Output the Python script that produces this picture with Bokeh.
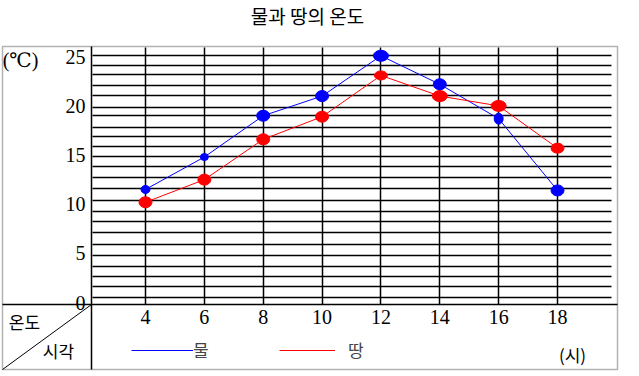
from bokeh.plotting import figure
from bokeh.models import (Range1d, LinearAxis, FixedTicker, Grid, Label, Legend,
                          LegendItem, ColumnDataSource, BoxAnnotation)
from bokeh.core.properties import value
from bokeh.embed import file_html
from bokeh.resources import INLINE

# ---------------- data ----------------
title_text = "물과 땅의 온도"
hours = [4, 6, 8, 10, 12, 14, 16, 18]
water = [11.5, 14.8, 19.0, 21.0, 25.1, 22.2, 18.7, 11.4]   # 물
land = [10.2, 12.5, 16.6, 18.9, 23.1, 21.0, 20.0, 15.7]    # 땅
temp_ticks = [0, 5, 10, 15, 20, 25]
grid_temps = [0.5, 1.6, 2.6, 3.7, 4.8, 5.9, 7.1, 8.2, 9.3, 10.4, 11.6, 12.7,
              13.8, 14.9, 15.9, 16.9, 17.8, 19.0, 19.8, 21.1, 22.1, 23.2, 24.1, 25.1]
series_names = ["물", "땅"]
unit_temp = "(℃)"
unit_time = "(시)"
corner_top = "온도"
corner_bottom = "시각"

# ---------------- styles ----------------
water_w = [9, 8, 13, 13, 15, 13, 9, 13]
water_h = [8, 7, 11, 11, 11, 11, 11, 11]
land_w = [13, 13, 13, 13, 13, 15, 15, 13]
land_h = [11, 11, 11, 11, 9, 11, 11, 10]

W, H = 639, 376
BL, BR, BT, BB = 2, 617, 46, 369          # outer box in pixels
DIV_X, DIV_Y = 91, 304                     # box dividers in pixels
PX_H, X0_PX, X0 = 29.43, 145.0, 4.0        # pixels per hour, hour 4 position
PX_T, Y0_PX = 9.83, 302.0                  # pixels per degree, 0 degree position


def X(px):
    return X0 + (px - X0_PX) / PX_H


def Y(py):
    return (Y0_PX - py) / PX_T


KFONT = "Noto Sans CJK KR"
NFONT = "'Liberation Serif', 'DejaVu Serif', serif"

p = figure(width=W, height=H,
           x_range=Range1d(X(0), X(W)), y_range=Range1d(Y(H), Y(0)),
           x_axis_type=None, y_axis_type=None,
           toolbar_location=None, output_backend="svg",
           min_border=0, outline_line_color=None,
           background_fill_color="white", border_fill_color="white")

# outer box
p.add_layout(BoxAnnotation(left=X(BL), right=X(BR), bottom=Y(BB), top=Y(BT),
                           fill_alpha=0, line_color="black", line_width=1.5,
                           level="underlay"))

# grids
vg = Grid(dimension=0, ticker=FixedTicker(ticks=hours), cross_bounds=(Y(DIV_Y), Y(BT + 1)),
          grid_line_color="black", grid_line_width=1.5)
hg = Grid(dimension=1, ticker=FixedTicker(ticks=grid_temps), cross_bounds=(X(92), X(611)),
          grid_line_color="black", grid_line_width=1.5)
p.add_layout(vg)
p.add_layout(hg)

# axes (drawn on the box dividers)
yaxis = LinearAxis(fixed_location=X(DIV_X), bounds=(Y(BB), Y(BT)),
                   ticker=FixedTicker(ticks=temp_ticks),
                   major_tick_in=0, major_tick_out=0, minor_tick_line_color=None,
                   major_label_standoff=6, major_label_text_font=NFONT,
                   major_label_text_font_size="20px", major_label_text_color="black",
                   axis_line_width=1.5, axis_line_color="black")
p.add_layout(yaxis, "left")
xaxis = LinearAxis(fixed_location=Y(DIV_Y), bounds=(X(BL), X(BR)),
                   ticker=FixedTicker(ticks=hours),
                   major_tick_in=0, major_tick_out=0, minor_tick_line_color=None,
                   major_label_standoff=5, major_label_text_font=NFONT,
                   major_label_text_font_size="20px", major_label_text_color="black",
                   axis_line_width=1.5, axis_line_color="black")
p.add_layout(xaxis, "below")

# corner diagonal
p.segment(x0=[X(DIV_X)], y0=[Y(DIV_Y)], x1=[X(BL)], y1=[Y(BB)], line_color="black", line_width=1)

# data
src = ColumnDataSource(dict(hour=hours, water=water, land=land,
                            ww=water_w, wh=water_h, lw=land_w, lh=land_h))
wl = p.line("hour", "water", source=src, line_color="blue", line_width=1)
ll = p.line("hour", "land", source=src, line_color="red", line_width=1)
p.ellipse("hour", "water", width="ww", height="wh", width_units="screen",
          height_units="screen", source=src, fill_color="blue", line_color="blue")
p.ellipse("hour", "land", width="lw", height="lh", width_units="screen",
          height_units="screen", source=src, fill_color="red", line_color="red")

# legends (location in screen px from the frame's bottom-left corner)
leg1 = Legend(items=[LegendItem(label=value(series_names[0]), renderers=[wl])],
              location=(131, 14), orientation="horizontal", glyph_width=62, glyph_height=16,
              label_standoff=0, padding=0, margin=0, border_line_color=None,
              background_fill_alpha=0, label_text_font=KFONT, label_text_font_size="17px")
leg2 = Legend(items=[LegendItem(label=value(series_names[1]), renderers=[ll])],
              location=(279, 14), orientation="horizontal", glyph_width=56, glyph_height=16,
              label_standoff=13, padding=0, margin=0, border_line_color=None,
              background_fill_alpha=0, label_text_font=KFONT, label_text_font_size="17px")
p.add_layout(leg1)
p.add_layout(leg2)


def lab(text, px, py, size, font):
    p.add_layout(Label(x=X(px), y=Y(py), text=text, text_align="center",
                       text_baseline="middle", text_font=font,
                       text_font_size=size, text_color="black"))


lab(title_text, 307, 15, "19px", KFONT)
lab(unit_temp, 20, 59, "20px", NFONT)
lab(corner_top, 24, 321, "17px", KFONT)
lab(corner_bottom, 58, 350, "17px", KFONT)
lab(unit_time, 572, 354, "17px", KFONT)

open("out.html", "w").write(file_html(p, INLINE))
